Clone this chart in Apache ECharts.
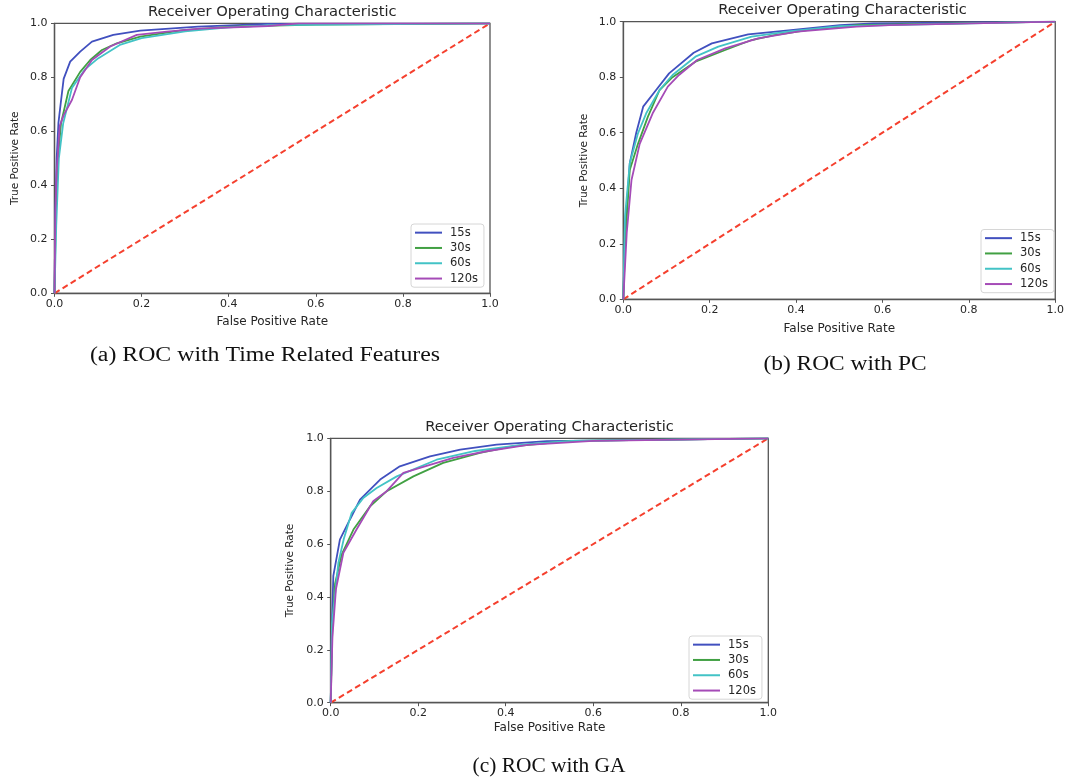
<!DOCTYPE html>
<html><head><meta charset="utf-8">
<script src="https://cdn.jsdelivr.net/npm/echarts@6/dist/echarts.min.js"></script>
<style>html,body{margin:0;padding:0;background:#fff}#c{width:1067px;height:781px}</style>
</head><body><div id="c"></div>
<script>
// ---- data ----
var seriesNames = ['15s', '30s', '60s', '120s'];
var tickLabels = ['0.0', '0.2', '0.4', '0.6', '0.8', '1.0'];
var chance = [[0, 0], [1, 1]];

// Panel (a): ROC with Time Related Features
var a15 = [[0,0],[0.002,0.3],[0.005,0.5],[0.009,0.63],[0.014,0.7],[0.021,0.794],[0.036,0.858],[0.059,0.895],[0.086,0.932],[0.135,0.957],[0.197,0.973],[0.33,0.988],[0.49,0.998],[1,1]];
var a30 = [[0,0],[0.003,0.3],[0.008,0.5],[0.015,0.63],[0.032,0.749],[0.059,0.82],[0.082,0.864],[0.109,0.901],[0.143,0.926],[0.197,0.951],[0.296,0.975],[0.41,0.988],[0.6,0.995],[1,1]];
var a60 = [[0,0],[0.004,0.25],[0.01,0.5],[0.02,0.63],[0.04,0.76],[0.07,0.83],[0.1,0.87],[0.15,0.92],[0.2,0.945],[0.3,0.97],[0.4,0.985],[0.5,0.993],[1,1]];
var a120 = [[0,0],[0.002,0.3],[0.005,0.45],[0.012,0.62],[0.021,0.66],[0.04,0.716],[0.059,0.8],[0.086,0.864],[0.128,0.914],[0.189,0.957],[0.258,0.969],[0.334,0.98],[0.49,0.99],[0.56,1],[1,1]];

// Panel (b): ROC with PC
var b15 = [[0,0],[0.004,0.24],[0.015,0.49],[0.03,0.6],[0.046,0.694],[0.076,0.754],[0.106,0.814],[0.163,0.888],[0.205,0.922],[0.289,0.954],[0.388,0.97],[0.502,0.988],[0.578,0.994],[1,1]];
var b30 = [[0,0],[0.004,0.2],[0.015,0.466],[0.034,0.56],[0.057,0.658],[0.084,0.754],[0.114,0.8],[0.167,0.856],[0.236,0.898],[0.297,0.934],[0.35,0.952],[0.426,0.97],[0.54,0.988],[1,1]];
var b60 = [[0,0],[0.004,0.3],[0.015,0.49],[0.034,0.598],[0.053,0.67],[0.084,0.754],[0.114,0.808],[0.167,0.874],[0.22,0.91],[0.297,0.946],[0.388,0.966],[0.502,0.984],[1,1]];
var b120 = [[0,0],[0.008,0.24],[0.019,0.43],[0.038,0.56],[0.068,0.67],[0.103,0.766],[0.129,0.808],[0.171,0.862],[0.236,0.904],[0.312,0.94],[0.403,0.964],[0.54,0.982],[0.616,0.988],[1,1]];

// Panel (c): ROC with GA
var c15 = [[0,0],[0.003,0.3],[0.006,0.48],[0.021,0.617],[0.044,0.693],[0.067,0.768],[0.09,0.806],[0.113,0.844],[0.158,0.894],[0.227,0.932],[0.296,0.957],[0.379,0.976],[0.494,0.989],[1,1]];
var c30 = [[0,0],[0.004,0.3],[0.01,0.45],[0.025,0.56],[0.052,0.655],[0.09,0.743],[0.128,0.8],[0.189,0.856],[0.257,0.907],[0.341,0.945],[0.417,0.97],[0.55,0.99],[1,1]];
var c60 = [[0,0],[0.003,0.3],[0.0175,0.529],[0.03,0.62],[0.048,0.718],[0.075,0.775],[0.105,0.812],[0.151,0.856],[0.242,0.919],[0.33,0.952],[0.45,0.978],[0.55,0.99],[1,1]];
var c120 = [[0,0],[0.004,0.25],[0.012,0.43],[0.029,0.567],[0.059,0.655],[0.097,0.762],[0.128,0.8],[0.166,0.869],[0.204,0.888],[0.28,0.926],[0.356,0.951],[0.45,0.975],[0.6,0.99],[1,1]];

var panels = [
  {data: [a15, a30, a60, a120], caption: '(a) ROC with Time Related Features',
   grid: {left: 54.5, top: 23.3, width: 435.5, height: 270}, capX: 265, capY: 356, capScale: 1.19,
   yGap: 34, xGap: 22.5, legend: {left: 411, top: 224}},
  {data: [b15, b30, b60, b120], caption: '(b) ROC with PC',
   grid: {left: 623.3, top: 21.7, width: 438.4, height: 277.6}, capX: 845, capY: 365, capScale: 1.17,
   yGap: 34, xGap: 23.5, legend: {left: 981, top: 229.5}},
  {data: [c15, c30, c60, c120], caption: '(c) ROC with GA',
   grid: {left: 330.7, top: 438.3, width: 437.6, height: 264.4}, capX: 549, capY: 767, capScale: 1.07,
   yGap: 35, xGap: 19, legend: {left: 689, top: 636}}
];

// ---- styles ----
var colors = ['#4150bf', '#41a043', '#43c3c6', '#a54bb7'];
var redColor = '#f5402e';
var font = 'DejaVu Sans';
var textColor = '#262626';

var option = {
  animation: false,
  backgroundColor: '#fff',
  grid: [], xAxis: [], yAxis: [], series: [], legend: [], graphic: []
};

function tickFmt(v) { return tickLabels[Math.round(v * 5)]; }

function makeAxis(i, name, gap, rotate, margin, nameSize) {
  var ax = {
    type: 'value', min: 0, max: 1, interval: 0.2, gridIndex: i,
    splitLine: {show: false},
    axisLine: {show: true, lineStyle: {color: '#555', width: 1.3}},
    axisTick: {show: true, inside: false, length: 3.5, lineStyle: {color: '#555'}},
    axisLabel: {color: textColor, fontFamily: font, fontSize: 11, margin: margin, formatter: tickFmt},
    name: name, nameLocation: 'middle', nameGap: gap,
    nameTextStyle: {color: textColor, fontFamily: font, fontSize: nameSize}
  };
  if (rotate) ax.nameRotate = 90;
  return ax;
}

panels.forEach(function (p, i) {
  var g = p.grid;
  option.grid.push({left: g.left, top: g.top, width: g.width, height: g.height,
    show: true, borderColor: '#555', borderWidth: 1.3, containLabel: false});
  option.xAxis.push(makeAxis(i, 'False Positive Rate', p.xGap, false, 5, 12));
  option.yAxis.push(makeAxis(i, 'True Positive Rate', p.yGap, true, 7, 10.5));

  p.data.forEach(function (d, k) {
    option.series.push({
      type: 'line', name: seriesNames[k], xAxisIndex: i, yAxisIndex: i,
      data: d, symbol: 'none', showSymbol: false, smooth: false,
      lineStyle: {color: colors[k], width: 1.8}, itemStyle: {color: colors[k]}, z: 3
    });
  });
  option.series.push({
    type: 'line', name: 'chance', xAxisIndex: i, yAxisIndex: i, data: chance,
    symbol: 'none', lineStyle: {color: redColor, width: 2, type: [6, 3.5]}, z: 2, silent: true
  });

  option.legend.push({
    data: seriesNames.map(function (n) { return {name: n, icon: 'rect'}; }),
    orient: 'vertical', left: p.legend.left, top: p.legend.top,
    itemWidth: 27, itemHeight: 2, itemGap: 0, padding: [1, 6, 1, 4],
    borderColor: '#d6d6d6', borderWidth: 1, borderRadius: 3, backgroundColor: '#fff',
    textStyle: {color: textColor, fontFamily: font, fontSize: 11.5, lineHeight: 15.3, padding: [0, 0, 0, 3]},
    selectedMode: false, z: 10
  });

  option.graphic.push({
    type: 'text', x: g.left + g.width / 2, y: g.top - 11, scaleX: 1.05,
    style: {text: 'Receiver Operating Characteristic', fill: textColor, font: '14px "DejaVu Sans"',
      textAlign: 'center', textVerticalAlign: 'middle'}
  });
  option.graphic.push({
    type: 'text', x: p.capX, y: p.capY, scaleX: p.capScale,
    style: {text: p.caption, fill: '#111', font: '20px "Liberation Serif"',
      textAlign: 'center', textVerticalAlign: 'middle'}
  });
});

var chart = echarts.init(document.getElementById('c'), null, {renderer: 'canvas'});
chart.setOption(option);
</script></body></html>
